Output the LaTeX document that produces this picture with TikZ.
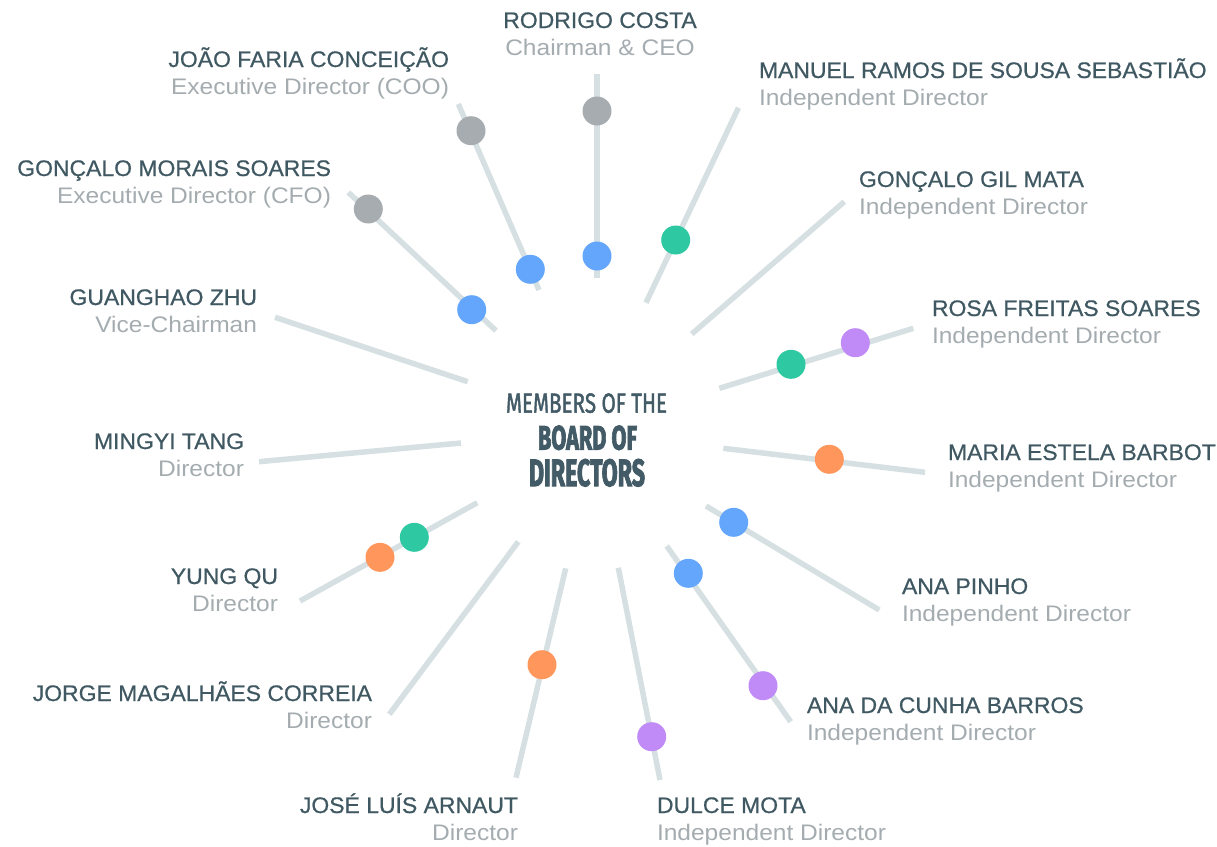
\documentclass[tikz,border=0pt]{standalone}
\usepackage{fontspec}
\usepackage{graphicx}
\setmainfont{Liberation Sans}
\newfontfamily\namefont[FakeStretch=1.02,FakeBold=0.6]{Liberation Sans}
\newfontfamily\rolefont[FakeStretch=1.09]{Liberation Sans}
\newfontfamily\boardfont[FakeBold=1.8]{Fira Sans}
\newfontfamily\boardbold[FakeBold=3]{Fira Sans Bold}
\definecolor{namec}{HTML}{3F5862}
\definecolor{rolec}{HTML}{A4ACB0}
\definecolor{spokec}{HTML}{D6E0E3}
\definecolor{dgray}{HTML}{A6ACB0}
\definecolor{dblue}{HTML}{63A6FB}
\definecolor{dteal}{HTML}{2EC9A2}
\definecolor{dpurple}{HTML}{C08BF6}
\definecolor{dorange}{HTML}{FF975C}
\definecolor{boardc}{HTML}{435B66}
\tikzset{
  spoke/.style={draw=spokec, line width=5.5pt, line cap=butt},
  dot/.style={circle, inner sep=0pt, minimum size=29pt, draw=none},
  nm/.style={inner sep=0pt, outer sep=0pt, text=namec, font=\namefont\fontsize{22.5}{27}\selectfont},
  rl/.style={inner sep=0pt, outer sep=0pt, text=rolec, font=\rolefont\fontsize{22.5}{27}\selectfont},
  board/.style={inner sep=0pt, outer sep=0pt, text=boardc}
}
\begin{document}
\begin{tikzpicture}[x=1pt,y=-1pt]
\useasboundingbox (0,0) rectangle (1217,846);
% spoke end points (outer o, inner i)
\coordinate (o1) at (597,74);      \coordinate (i1) at (597,278);
\coordinate (o2) at (458.3,104);   \coordinate (i2) at (539,290);
\coordinate (o3) at (348.3,192.3); \coordinate (i3) at (496,330.7);
\coordinate (o4) at (275,317.3);   \coordinate (i4) at (467.7,381.7);
\coordinate (o5) at (259,461.7);   \coordinate (i5) at (461,443);
\coordinate (o6) at (300,601);     \coordinate (i6) at (477.3,502.7);
\coordinate (o7) at (389.3,714.3); \coordinate (i7) at (518.3,541.7);
\coordinate (o8) at (516,777.7);   \coordinate (i8) at (565.7,568.3);
\coordinate (o9) at (660,780);     \coordinate (i9) at (618.3,567.7);
\coordinate (o10) at (790.7,721.7); \coordinate (i10) at (666.7,546);
\coordinate (o11) at (879.3,610);   \coordinate (i11) at (706,506);
\coordinate (o12) at (925,472.3);   \coordinate (i12) at (723.3,448.3);
\coordinate (o13) at (913.3,328.3); \coordinate (i13) at (719.3,388.3);
\coordinate (o14) at (844.3,201.7); \coordinate (i14) at (691.7,334);
\coordinate (o15) at (738.5,107.7); \coordinate (i15) at (646,302.7);
\foreach \k in {1,...,15}{\draw[spoke] (o\k) -- (i\k);}
% dots
\node[dot, fill=dgray]   (d1a) at (597,111) {};
\node[dot, fill=dblue]   (d1b) at (597,256) {};
\node[dot, fill=dgray]   (d2a) at (471,130.7) {};
\node[dot, fill=dblue]   (d2b) at (530.3,269.3) {};
\node[dot, fill=dgray]   (d3a) at (368.3,209) {};
\node[dot, fill=dblue]   (d3b) at (471.7,309.7) {};
\node[dot, fill=dorange] (d6a) at (380,557.3) {};
\node[dot, fill=dteal]   (d6b) at (414.3,537.3) {};
\node[dot, fill=dorange] (d8a) at (542,664.7) {};
\node[dot, fill=dpurple] (d9a) at (651.7,736.7) {};
\node[dot, fill=dblue]   (d10a) at (688.3,573.3) {};
\node[dot, fill=dpurple] (d10b) at (763,685.7) {};
\node[dot, fill=dblue]   (d11a) at (733.7,522.3) {};
\node[dot, fill=dorange] (d12a) at (829.3,459.3) {};
\node[dot, fill=dteal]   (d13a) at (791,364.3) {};
\node[dot, fill=dpurple] (d13b) at (855.3,342.7) {};
\node[dot, fill=dteal]   (d15a) at (675.7,240) {};
% centre title
\node[board, anchor=north] (t1) at (586.5,393.3) {\resizebox{161pt}{19.4pt}{\boardfont MEMBERS OF THE}};
\node[board, anchor=north] (t2) at (587.5,425.5) {\resizebox{99pt}{24pt}{\boardbold BOARD OF}};
\node[board, anchor=north] (t3) at (587,459) {\resizebox{116pt}{27pt}{\boardbold DIRECTORS}};
% labels
\node[nm, anchor=base] (n1) at (600,28) {RODRIGO COSTA};
\node[rl, anchor=base] (r1) at (600,55) {Chairman \& CEO};
\node[nm, anchor=base east] (n2) at (449,67) {JOÃO FARIA CONCEIÇÃO};
\node[rl, anchor=base east] (r2) at (449,94) {Executive Director (COO)};
\node[nm, anchor=base east] (n3) at (331,176) {GONÇALO MORAIS SOARES};
\node[rl, anchor=base east] (r3) at (331,203) {Executive Director (CFO)};
\node[nm, anchor=base east] (n4) at (257,305) {GUANGHAO ZHU};
\node[rl, anchor=base east] (r4) at (257,332) {Vice-Chairman};
\node[nm, anchor=base east] (n5) at (244,449) {MINGYI TANG};
\node[rl, anchor=base east] (r5) at (244,476) {Director};
\node[nm, anchor=base east] (n6) at (278,584) {YUNG QU};
\node[rl, anchor=base east] (r6) at (278,611) {Director};
\node[nm, anchor=base east] (n7) at (372,701) {JORGE MAGALHÃES CORREIA};
\node[rl, anchor=base east] (r7) at (372,728) {Director};
\node[nm, anchor=base east] (n8) at (518,813) {JOSÉ LUÍS ARNAUT};
\node[rl, anchor=base east] (r8) at (518,840) {Director};
\node[nm, anchor=base west] (n9) at (657,813) {DULCE MOTA};
\node[rl, anchor=base west] (r9) at (657,840) {Independent Director};
\node[nm, anchor=base west] (n10) at (807,713) {ANA DA CUNHA BARROS};
\node[rl, anchor=base west] (r10) at (807,740) {Independent Director};
\node[nm, anchor=base west] (n11) at (902,594) {ANA PINHO};
\node[rl, anchor=base west] (r11) at (902,621) {Independent Director};
\node[nm, anchor=base west] (n12) at (948,460) {MARIA ESTELA BARBOT};
\node[rl, anchor=base west] (r12) at (948,487) {Independent Director};
\node[nm, anchor=base west] (n13) at (932,316) {ROSA FREITAS SOARES};
\node[rl, anchor=base west] (r13) at (932,343) {Independent Director};
\node[nm, anchor=base west] (n14) at (859,187) {GONÇALO GIL MATA};
\node[rl, anchor=base west] (r14) at (859,214) {Independent Director};
\node[nm, anchor=base west] (n15) at (759,78) {MANUEL RAMOS DE SOUSA SEBASTIÃO};
\node[rl, anchor=base west] (r15) at (759,105) {Independent Director};
\end{tikzpicture}
\end{document}
